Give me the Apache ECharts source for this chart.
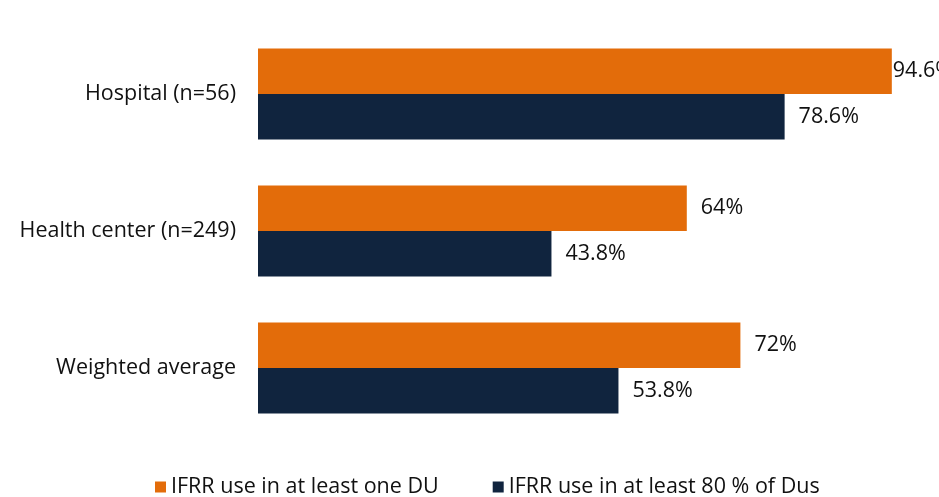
<!DOCTYPE html>
<html>
<head>
<meta charset="utf-8">
<script src="https://cdn.jsdelivr.net/npm/echarts@6/dist/echarts.min.js"></script>
<style>
  html, body { margin: 0; padding: 0; background: #ffffff; }
  #chart { width: 939px; height: 497px; }
</style>
</head>
<body>
<div id="chart"></div>
<script>
// Facility types, listed top to bottom
const categories = ['Hospital (n=56)', 'Health center (n=249)', 'Weighted average'];
const seriesNames = ['IFRR use in at least one DU', 'IFRR use in at least 80 % of Dus'];
// Percent of facilities
const atLeastOneDU = [94.6, 64, 72];
const atLeast80DU = [78.6, 43.8, 53.8];

const FONT = '"Open Sans", Lato, sans-serif';
const FS = 21.5;
const chart = echarts.init(document.getElementById('chart'));

const labelStyle = {
  show: true,
  position: 'right',
  distance: 14,
  color: '#111111',
  fontFamily: FONT,
  fontSize: FS,
  formatter: p => p.value + '%'
};

// The longest bar's label sits tight against the bar end
const firstData = atLeastOneDU.map((v, i) =>
  i === 0 ? { value: v, label: { distance: 1 } } : v
);

chart.setOption({
  backgroundColor: '#ffffff',
  animation: false,
  grid: { left: 258, width: 670, top: 25.5, height: 411 },
  legend: {
    top: 471,
    left: 150,
    itemWidth: 11,
    itemHeight: 11,
    itemGap: 54,
    itemStyle: { borderWidth: 0 },
    icon: 'rect',
    textStyle: { fontFamily: FONT, fontSize: FS, color: '#111111' },
    data: seriesNames
  },
  xAxis: {
    type: 'value',
    min: 0,
    max: 100,
    show: false
  },
  yAxis: {
    type: 'category',
    inverse: true,
    data: categories,
    axisLine: { show: false },
    axisTick: { show: false },
    axisLabel: {
      margin: 22,
      color: '#111111',
      fontFamily: FONT,
      fontSize: FS,
      padding: [4, 0, 0, 0]
    }
  },
  series: [
    {
      name: seriesNames[0],
      type: 'bar',
      data: firstData,
      barGap: '0%',
      barCategoryGap: '33.5%',
      itemStyle: { color: '#e36c0a' },
      label: labelStyle
    },
    {
      name: seriesNames[1],
      type: 'bar',
      data: atLeast80DU,
      itemStyle: { color: '#10243e' },
      label: labelStyle
    }
  ]
});
</script>
</body>
</html>
